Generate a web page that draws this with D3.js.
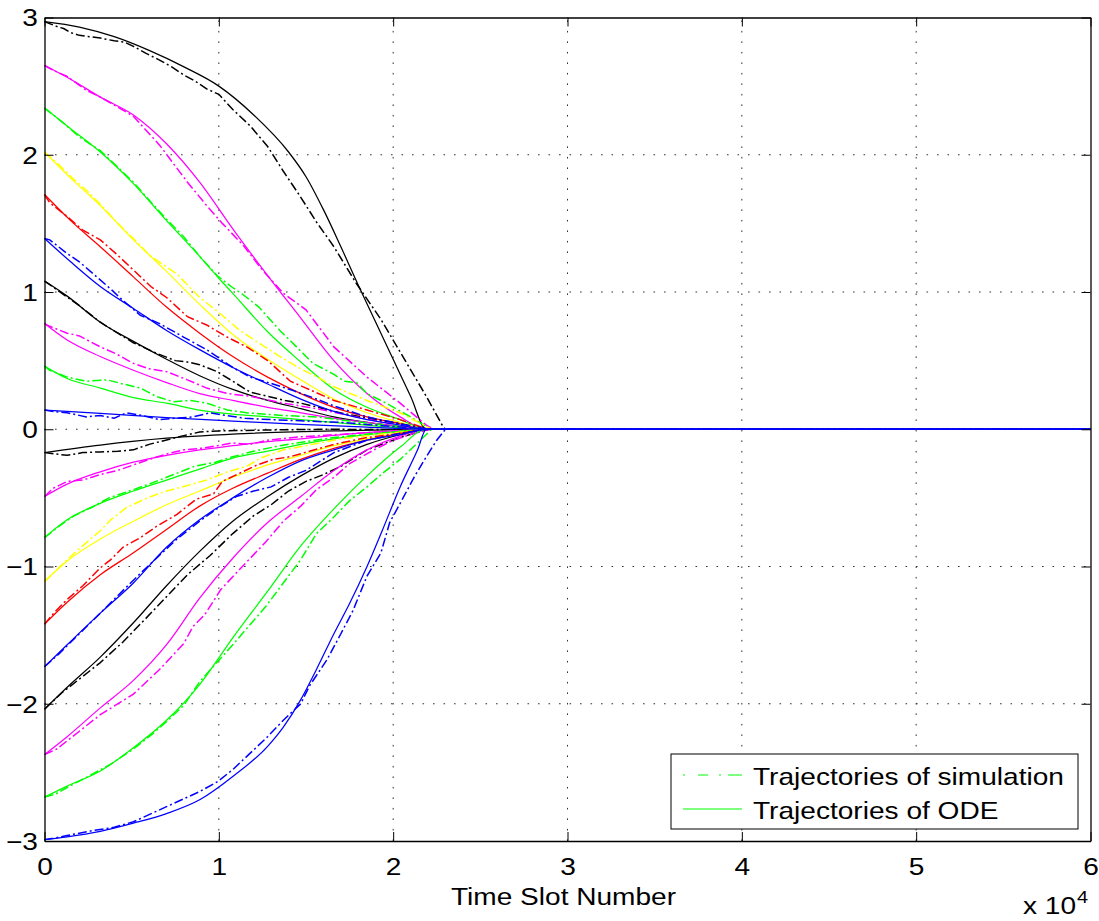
<!DOCTYPE html>
<html>
<head>
<meta charset="utf-8">
<script src="https://cdn.jsdelivr.net/npm/d3@7"></script>
<style>
  html, body { margin: 0; padding: 0; background: #fff; }
  svg { display: block; }
  text { font-family: "Liberation Sans", Arial, Helvetica, sans-serif; fill: #000; }
</style>
</head>
<body>
<svg id="chart" width="1099" height="921"></svg>
<script>
// Time axis is in units of 10^4 time slots.
const xTicks = [0, 1, 2, 3, 4, 5, 6];
const yTicks = [-3, -2, -1, 0, 1, 2, 3];
const legendLabels = ["Trajectories of simulation", "Trajectories of ODE"];
const xAxisTitle = "Time Slot Number";
const xMultiplierBase = "x 10";
const xMultiplierExp = "4";

const trajColors = ["#000000", "#ff00ff", "#00ff00", "#ffff00", "#ff0000", "#0000ff",
                    "#000000", "#ff00ff", "#00ff00", "#0000ff",
                    "#000000", "#ff00ff", "#00ff00", "#ffff00", "#ff0000", "#0000ff",
                    "#000000", "#ff00ff", "#00ff00", "#0000ff"];

// ODE trajectories [time (x10^4), state]
const ode01 = [[0,2.97],[0.2,2.93],[0.4,2.86],[0.6,2.76],[0.8,2.64],[1.0,2.50],[1.2,2.29],[1.4,2.02],[1.5,1.84],[1.6,1.60],[1.7,1.33],[1.8,1.05],[1.9,0.78],[2.0,0.51],[2.1,0.24],[2.19,0],[6,0]];
const ode02 = [[0,2.65],[0.15,2.55],[0.32,2.42],[0.51,2.29],[0.7,2.08],[0.89,1.80],[1.08,1.46],[1.28,1.12],[1.47,0.81],[1.66,0.50],[1.85,0.26],[2.04,0.09],[2.19,0],[6,0]];
const ode03 = [[0,2.34],[0.15,2.19],[0.32,2.02],[0.51,1.79],[0.7,1.52],[0.89,1.26],[1.0,1.10],[1.08,0.99],[1.28,0.71],[1.47,0.49],[1.66,0.29],[1.85,0.16],[2.04,0.07],[2.19,0],[6,0]];
const ode04 = [[0,2.02],[0.15,1.83],[0.32,1.63],[0.51,1.38],[0.7,1.15],[0.89,0.91],[1.08,0.69],[1.28,0.51],[1.47,0.36],[1.66,0.22],[1.85,0.12],[2.04,0.05],[2.19,0],[6,0]];
const ode05 = [[0,1.71],[0.15,1.52],[0.32,1.33],[0.51,1.11],[0.7,0.89],[0.89,0.70],[1.08,0.53],[1.28,0.38],[1.47,0.26],[1.66,0.16],[1.85,0.09],[2.04,0.04],[2.19,0],[6,0]];
const ode06 = [[0,1.39],[0.15,1.22],[0.32,1.04],[0.51,0.88],[0.7,0.72],[0.89,0.58],[1.08,0.45],[1.28,0.33],[1.47,0.22],[1.66,0.13],[1.85,0.07],[2.04,0.03],[2.19,0],[6,0]];
const ode07 = [[0,1.08],[0.13,0.97],[0.32,0.78],[0.51,0.64],[0.7,0.51],[0.89,0.39],[1.08,0.29],[1.28,0.21],[1.47,0.15],[1.66,0.09],[1.85,0.05],[2.04,0.02],[2.19,0],[6,0]];
const ode08 = [[0,0.77],[0.13,0.65],[0.32,0.53],[0.51,0.43],[0.7,0.34],[0.89,0.26],[1.08,0.21],[1.28,0.16],[1.47,0.12],[1.66,0.08],[1.85,0.05],[2.04,0.02],[2.19,0],[6,0]];
const ode09 = [[0,0.46],[0.13,0.37],[0.32,0.30],[0.51,0.23],[0.7,0.19],[0.89,0.14],[1.08,0.11],[1.28,0.09],[1.47,0.07],[1.66,0.05],[1.85,0.03],[2.04,0.01],[2.19,0],[6,0]];
const ode10 = [[0,0.14],[0.32,0.115],[0.7,0.085],[1.08,0.06],[1.47,0.035],[1.85,0.015],[2.19,0],[6,0]];
const ode11 = [[0,-0.17],[0.32,-0.115],[0.7,-0.065],[1.18,-0.03],[1.66,-0.012],[2.19,0],[6,0]];
const ode12 = [[0,-0.49],[0.13,-0.40],[0.32,-0.31],[0.51,-0.24],[0.7,-0.19],[0.89,-0.15],[1.08,-0.12],[1.28,-0.09],[1.47,-0.07],[1.66,-0.045],[1.85,-0.025],[2.04,-0.01],[2.19,0],[6,0]];
const ode13 = [[0,-0.79],[0.13,-0.66],[0.32,-0.54],[0.51,-0.45],[0.7,-0.37],[0.89,-0.29],[1.08,-0.21],[1.28,-0.16],[1.47,-0.11],[1.66,-0.07],[1.85,-0.04],[2.04,-0.015],[2.19,0],[6,0]];
const ode14 = [[0,-1.11],[0.13,-0.96],[0.32,-0.80],[0.51,-0.67],[0.7,-0.55],[0.89,-0.45],[1.08,-0.35],[1.28,-0.26],[1.47,-0.19],[1.66,-0.12],[1.85,-0.07],[2.04,-0.03],[2.19,0],[6,0]];
const ode15 = [[0,-1.42],[0.13,-1.26],[0.32,-1.06],[0.51,-0.90],[0.7,-0.73],[0.89,-0.56],[1.08,-0.43],[1.28,-0.32],[1.47,-0.22],[1.66,-0.14],[1.85,-0.08],[2.04,-0.03],[2.19,0],[6,0]];
const ode16 = [[0,-1.73],[0.13,-1.57],[0.32,-1.34],[0.51,-1.12],[0.7,-0.86],[0.89,-0.66],[1.08,-0.50],[1.28,-0.35],[1.47,-0.23],[1.66,-0.15],[1.85,-0.08],[2.04,-0.04],[2.19,0],[6,0]];
const ode17 = [[0,-2.04],[0.13,-1.88],[0.32,-1.66],[0.51,-1.41],[0.7,-1.14],[0.89,-0.89],[1.08,-0.67],[1.28,-0.49],[1.47,-0.34],[1.66,-0.21],[1.85,-0.11],[2.04,-0.04],[2.19,0],[6,0]];
const ode18 = [[0,-2.37],[0.13,-2.24],[0.32,-2.03],[0.51,-1.83],[0.7,-1.57],[0.89,-1.23],[1.08,-0.94],[1.28,-0.68],[1.47,-0.49],[1.66,-0.30],[1.85,-0.15],[2.04,-0.05],[2.19,0],[6,0]];
const ode19 = [[0,-2.68],[0.13,-2.60],[0.32,-2.49],[0.51,-2.32],[0.7,-2.12],[0.89,-1.86],[1.08,-1.52],[1.28,-1.18],[1.47,-0.85],[1.66,-0.58],[1.85,-0.34],[2.04,-0.13],[2.19,0],[6,0]];
const ode20 = [[0,-2.99],[0.13,-2.97],[0.32,-2.93],[0.51,-2.87],[0.7,-2.80],[0.89,-2.70],[1.08,-2.53],[1.28,-2.31],[1.37,-2.17],[1.47,-1.97],[1.56,-1.75],[1.66,-1.49],[1.75,-1.27],[1.85,-1.0],[1.94,-0.73],[2.04,-0.42],[2.14,-0.15],[2.19,0],[6,0]];

// Simulated trajectories [time (x10^4), state]
const sim01 = [[0,2.97],[0.04,2.95],[0.08,2.93],[0.11,2.92],[0.15,2.89],[0.2,2.87],[0.26,2.86],[0.32,2.85],[0.4,2.83],[0.46,2.82],[0.51,2.79],[0.58,2.74],[0.66,2.69],[0.73,2.64],[0.8,2.58],[0.86,2.54],[0.93,2.48],[1.0,2.44],[1.08,2.33],[1.18,2.21],[1.28,2.06],[1.37,1.88],[1.47,1.69],[1.56,1.51],[1.66,1.33],[1.79,1.06],[1.93,0.80],[2.06,0.52],[2.19,0.24],[2.29,0.01],[2.3,0],[6,0]];
const sim02 = [[0,2.65],[0.06,2.61],[0.13,2.57],[0.24,2.47],[0.32,2.42],[0.43,2.34],[0.51,2.28],[0.66,2.07],[0.82,1.80],[0.93,1.63],[1.02,1.50],[1.14,1.34],[1.25,1.16],[1.37,0.99],[1.5,0.87],[1.66,0.60],[1.85,0.38],[2.04,0.19],[2.19,0.03],[2.23,0],[6,0]];
const sim03 = [[0,2.34],[0.1,2.24],[0.2,2.13],[0.32,2.03],[0.42,1.91],[0.51,1.80],[0.6,1.67],[0.7,1.53],[0.8,1.40],[0.89,1.26],[0.99,1.12],[1.07,1.04],[1.14,0.98],[1.23,0.89],[1.35,0.72],[1.43,0.62],[1.54,0.48],[1.66,0.40],[1.72,0.35],[1.79,0.34],[1.85,0.26],[1.96,0.19],[2.1,0.09],[2.19,0.02],[2.22,0],[6,0]];
const sim04 = [[0,2.02],[0.08,1.93],[0.16,1.83],[0.25,1.73],[0.32,1.64],[0.42,1.50],[0.51,1.39],[0.6,1.27],[0.76,1.13],[0.89,0.96],[1.01,0.84],[1.12,0.72],[1.24,0.62],[1.35,0.53],[1.47,0.44],[1.58,0.37],[1.66,0.31],[1.85,0.21],[2.04,0.12],[2.19,0.02],[2.22,0],[6,0]];
const sim05 = [[0,1.71],[0.03,1.65],[0.13,1.55],[0.22,1.45],[0.32,1.38],[0.41,1.28],[0.51,1.16],[0.61,1.04],[0.7,0.96],[0.82,0.82],[0.93,0.76],[1.05,0.67],[1.16,0.60],[1.28,0.50],[1.35,0.42],[1.41,0.35],[1.5,0.30],[1.66,0.21],[1.85,0.14],[2.04,0.07],[2.2,0],[6,0]];
const sim06 = [[0,1.39],[0.03,1.38],[0.13,1.28],[0.2,1.22],[0.3,1.11],[0.39,1.01],[0.43,0.96],[0.55,0.83],[0.66,0.77],[0.8,0.67],[0.93,0.58],[1.08,0.45],[1.18,0.38],[1.31,0.33],[1.43,0.28],[1.54,0.23],[1.66,0.17],[1.85,0.09],[2.04,0.04],[2.2,0],[6,0]];
const sim07 = [[0,1.08],[0.1,0.99],[0.2,0.90],[0.32,0.78],[0.42,0.70],[0.51,0.63],[0.65,0.55],[0.75,0.50],[0.82,0.49],[0.89,0.47],[0.99,0.42],[1.08,0.35],[1.18,0.27],[1.28,0.24],[1.38,0.21],[1.47,0.19],[1.57,0.16],[1.66,0.13],[1.85,0.08],[2.04,0.04],[2.2,0],[6,0]];
const sim08 = [[0,0.77],[0.03,0.75],[0.13,0.70],[0.2,0.68],[0.32,0.60],[0.41,0.55],[0.51,0.48],[0.6,0.44],[0.7,0.42],[0.82,0.36],[0.93,0.30],[1.05,0.26],[1.18,0.24],[1.37,0.19],[1.56,0.15],[1.75,0.10],[1.95,0.05],[2.2,0],[6,0]];
const sim09 = [[0,0.46],[0.03,0.43],[0.13,0.38],[0.24,0.35],[0.36,0.36],[0.45,0.33],[0.55,0.30],[0.64,0.24],[0.74,0.20],[0.84,0.21],[0.93,0.19],[1.05,0.14],[1.16,0.12],[1.37,0.10],[1.56,0.09],[1.75,0.06],[1.95,0.03],[2.2,0],[6,0]];
const sim10 = [[0,0.14],[0.05,0.13],[0.13,0.12],[0.24,0.09],[0.32,0.10],[0.4,0.08],[0.47,0.12],[0.56,0.10],[0.66,0.07],[0.75,0.08],[0.85,0.09],[0.95,0.12],[1.04,0.10],[1.15,0.08],[1.3,0.07],[1.5,0.06],[1.7,0.05],[1.9,0.03],[2.2,0],[6,0]];
const sim11 = [[0,-0.17],[0.03,-0.175],[0.13,-0.19],[0.22,-0.17],[0.32,-0.165],[0.42,-0.16],[0.51,-0.15],[0.6,-0.11],[0.74,-0.065],[0.82,-0.04],[0.89,-0.02],[1.0,-0.012],[1.1,-0.01],[1.3,-0.005],[1.6,0.0],[1.9,-0.002],[2.2,0],[6,0]];
const sim12 = [[0,-0.49],[0.05,-0.43],[0.13,-0.38],[0.22,-0.37],[0.32,-0.33],[0.42,-0.30],[0.51,-0.26],[0.6,-0.22],[0.7,-0.18],[0.8,-0.15],[0.89,-0.14],[0.99,-0.12],[1.08,-0.10],[1.18,-0.11],[1.28,-0.08],[1.47,-0.055],[1.66,-0.04],[1.85,-0.025],[2.04,-0.01],[2.2,0],[6,0]];
const sim13 = [[0,-0.79],[0.08,-0.71],[0.17,-0.63],[0.27,-0.57],[0.37,-0.50],[0.51,-0.44],[0.62,-0.39],[0.74,-0.33],[0.86,-0.27],[0.98,-0.24],[1.08,-0.20],[1.2,-0.16],[1.35,-0.12],[1.5,-0.09],[1.66,-0.06],[1.85,-0.035],[2.04,-0.015],[2.2,0],[6,0]];
const sim14 = [[0,-1.11],[0.05,-1.05],[0.13,-0.95],[0.2,-0.87],[0.32,-0.74],[0.38,-0.66],[0.47,-0.57],[0.59,-0.50],[0.7,-0.45],[0.82,-0.41],[0.93,-0.37],[1.05,-0.31],[1.16,-0.27],[1.24,-0.21],[1.37,-0.15],[1.54,-0.11],[1.7,-0.07],[1.9,-0.04],[2.2,0],[6,0]];
const sim15 = [[0,-1.42],[0.06,-1.33],[0.13,-1.24],[0.22,-1.14],[0.32,-1.01],[0.38,-0.95],[0.45,-0.86],[0.55,-0.79],[0.64,-0.71],[0.76,-0.62],[0.87,-0.51],[0.97,-0.47],[1.02,-0.38],[1.12,-0.32],[1.22,-0.26],[1.31,-0.22],[1.41,-0.20],[1.52,-0.16],[1.66,-0.11],[1.85,-0.06],[2.04,-0.03],[2.2,0],[6,0]];
const sim16 = [[0,-1.73],[0.08,-1.64],[0.2,-1.49],[0.32,-1.34],[0.43,-1.20],[0.55,-1.05],[0.65,-0.93],[0.76,-0.80],[0.89,-0.67],[1.0,-0.57],[1.1,-0.49],[1.2,-0.45],[1.3,-0.42],[1.4,-0.35],[1.5,-0.30],[1.66,-0.17],[1.85,-0.08],[2.04,-0.03],[2.2,0],[6,0]];
const sim17 = [[0,-2.04],[0.1,-1.92],[0.2,-1.82],[0.32,-1.70],[0.45,-1.55],[0.58,-1.38],[0.7,-1.22],[0.82,-1.06],[0.95,-0.92],[1.08,-0.76],[1.2,-0.63],[1.3,-0.55],[1.4,-0.45],[1.5,-0.38],[1.6,-0.33],[1.7,-0.27],[1.85,-0.15],[2.04,-0.06],[2.2,0],[6,0]];
const sim18 = [[0,-2.37],[0.07,-2.33],[0.13,-2.27],[0.32,-2.08],[0.51,-1.93],[0.66,-1.75],[0.8,-1.56],[0.85,-1.44],[0.92,-1.35],[1.01,-1.17],[1.12,-1.02],[1.27,-0.82],[1.37,-0.67],[1.47,-0.56],[1.56,-0.44],[1.66,-0.35],[1.75,-0.25],[1.89,-0.15],[2.0,-0.08],[2.12,-0.03],[2.22,0],[6,0]];
const sim19 = [[0,-2.68],[0.06,-2.66],[0.13,-2.61],[0.25,-2.53],[0.38,-2.44],[0.51,-2.33],[0.62,-2.22],[0.7,-2.13],[0.8,-2.01],[0.89,-1.84],[1.08,-1.57],[1.27,-1.29],[1.47,-0.95],[1.56,-0.76],[1.66,-0.64],[1.75,-0.52],[1.85,-0.42],[1.94,-0.32],[2.04,-0.22],[2.14,-0.10],[2.22,0],[6,0]];
const sim20 = [[0,-2.99],[0.05,-2.98],[0.13,-2.96],[0.25,-2.93],[0.4,-2.90],[0.51,-2.86],[0.7,-2.75],[0.89,-2.64],[0.99,-2.57],[1.08,-2.48],[1.18,-2.36],[1.28,-2.24],[1.37,-2.12],[1.47,-2.0],[1.52,-1.87],[1.62,-1.68],[1.7,-1.49],[1.77,-1.32],[1.85,-1.07],[1.93,-0.90],[1.98,-0.68],[2.04,-0.54],[2.12,-0.35],[2.19,-0.20],[2.25,-0.08],[2.3,0],[6,0]];

const odeTrajectories = [ode01, ode02, ode03, ode04, ode05, ode06, ode07, ode08, ode09, ode10,
                         ode11, ode12, ode13, ode14, ode15, ode16, ode17, ode18, ode19, ode20];
const simTrajectories = [sim01, sim02, sim03, sim04, sim05, sim06, sim07, sim08, sim09, sim10,
                         sim11, sim12, sim13, sim14, sim15, sim16, sim17, sim18, sim19, sim20];

// ---- layout ----
const plot = { left: 44.5, right: 1090.5, top: 17.5, bottom: 841 };
const fontSize = 24;
const stretch = "scale(1.17,1)";

const svg = d3.select("#chart");
const x = d3.scaleLinear().domain([0, 6]).range([plot.left, plot.right]);
const y = d3.scaleLinear().domain([-3, 3]).range([plot.bottom, plot.top]);

// dotted grid
const grid = svg.append("g").attr("class", "grid")
  .attr("stroke", "#333").attr("stroke-width", 1).attr("stroke-dasharray", "1.6,8.9");
grid.selectAll("line.gx").data(xTicks.slice(1, -1)).join("line")
  .attr("x1", d => x(d)).attr("x2", d => x(d))
  .attr("y1", plot.bottom).attr("y2", plot.top);
grid.selectAll("line.gy").data(yTicks.slice(1, -1)).join("line")
  .attr("x1", plot.left).attr("x2", plot.right)
  .attr("y1", d => y(d)).attr("y2", d => y(d));

// trajectories: blue ones are drawn last so they sit on top at steady state
const plotArea = svg.append("g");
const lineSim = d3.line().x(d => x(d[0])).y(d => y(d[1])).curve(d3.curveLinear);
const lineOde = d3.line().x(d => x(d[0])).y(d => y(d[1])).curve(d3.curveMonotoneX);

const drawOrder = d3.range(odeTrajectories.length)
  .sort((a, b) => d3.ascending(trajColors[a] === "#0000ff", trajColors[b] === "#0000ff") || a - b);

drawOrder.forEach(i => {
  const c = trajColors[i];
  plotArea.append("path").datum(simTrajectories[i])
    .attr("d", lineSim).attr("fill", "none").attr("stroke", c)
    .attr("stroke-width", 1.5).attr("stroke-dasharray", "9,3,2,3");
  plotArea.append("path").datum(odeTrajectories[i])
    .attr("d", lineOde).attr("fill", "none").attr("stroke", c)
    .attr("stroke-width", 1.25);
});

// axes with inward ticks (box style)
const tickFmt = d => d3.format("")(d);
const axB = svg.append("g").attr("transform", `translate(0,${plot.bottom})`)
  .call(d3.axisBottom(x).tickValues(xTicks).tickFormat(tickFmt).tickSizeInner(-9).tickSizeOuter(0).tickPadding(17));
const axL = svg.append("g").attr("transform", `translate(${plot.left},0)`)
  .call(d3.axisLeft(y).tickValues(yTicks).tickFormat(tickFmt).tickSizeInner(-9).tickSizeOuter(0).tickPadding(5.6));
const axT = svg.append("g").attr("transform", `translate(0,${plot.top})`)
  .call(d3.axisTop(x).tickValues(xTicks).tickFormat("").tickSizeInner(-9).tickSizeOuter(0));
const axR = svg.append("g").attr("transform", `translate(${plot.right},0)`)
  .call(d3.axisRight(y).tickValues(yTicks).tickFormat("").tickSizeInner(-9).tickSizeOuter(0));

[axB, axL, axT, axR].forEach(a => {
  a.selectAll("path.domain").attr("stroke", "#000").attr("stroke-width", 1.3);
  a.selectAll(".tick line").attr("stroke", "#000").attr("stroke-width", 1);
  a.selectAll("text").attr("font-size", fontSize)
    .attr("font-family", "Liberation Sans, Arial, sans-serif").attr("fill", "#000")
    .attr("transform", stretch);
});
axL.selectAll(".tick text").attr("dy", "0.35em");
axB.selectAll(".tick text").attr("dy", "0.72em");

// axis title and multiplier
svg.append("text")
  .attr("transform", `translate(${(plot.left + plot.right) / 2 - 4},905) ${stretch}`)
  .attr("text-anchor", "middle").attr("font-size", fontSize).text(xAxisTitle);
svg.append("text")
  .attr("transform", `translate(1076,914) ${stretch}`)
  .attr("text-anchor", "end").attr("font-size", fontSize).text(xMultiplierBase);
svg.append("text")
  .attr("transform", `translate(1077,903) ${stretch}`)
  .attr("font-size", 17).text(xMultiplierExp);

// legend
const legend = svg.append("g");
legend.append("rect").attr("x", 671).attr("y", 754).attr("width", 407).attr("height", 75)
  .attr("fill", "#fff").attr("stroke", "#000").attr("stroke-width", 1);
const legendStyles = [
  { dash: "2,13,10,11,2,7,15,0", y: 775, base: 785 },
  { dash: null, y: 809, base: 819 }
];
legendLabels.forEach((lbl, i) => {
  const s = legendStyles[i];
  const ln = legend.append("line").attr("x1", 683).attr("x2", 742)
    .attr("y1", s.y).attr("y2", s.y).attr("stroke", "#00ff00").attr("stroke-width", 1.2);
  if (s.dash) ln.attr("stroke-dasharray", s.dash);
  legend.append("text").attr("transform", `translate(753,${s.base}) ${stretch}`)
    .attr("font-size", fontSize).text(lbl);
});
</script>
</body>
</html>
